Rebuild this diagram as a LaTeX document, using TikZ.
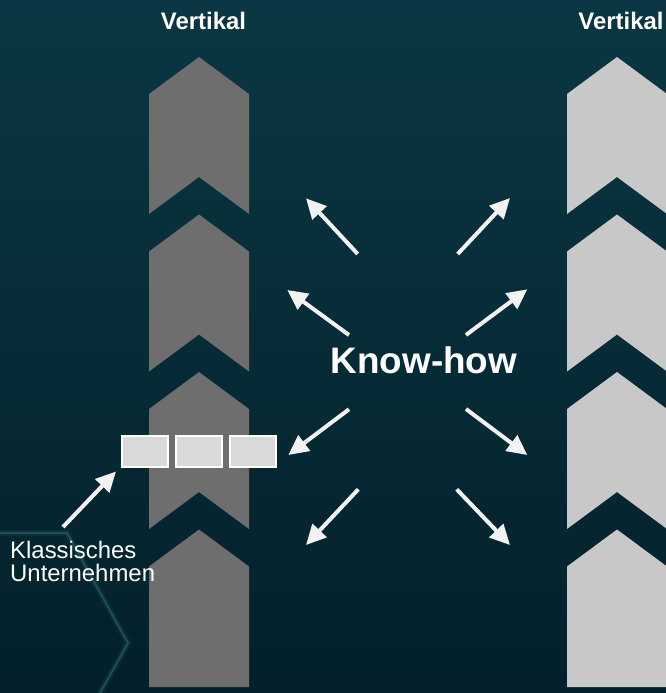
\documentclass[tikz,border=0pt]{standalone}
\usepackage{fontspec}
\setmainfont{Liberation Sans}
\usetikzlibrary{arrows.meta,calc}
\definecolor{bgtop}{HTML}{0A3743}
\definecolor{bgbot}{HTML}{03202A}
\definecolor{darkchev}{HTML}{6E6E6E}
\definecolor{lightchev}{HTML}{C8C8C8}
\definecolor{boxfill}{HTML}{D9D9D9}
\definecolor{arrowwhite}{HTML}{F2F2F2}
\definecolor{glow}{HTML}{3F9098}
\begin{document}
\begin{tikzpicture}[x=1bp,y=-1bp,
  chevdark/.style={fill=darkchev,draw=none},
  chevlight/.style={fill=lightchev,draw=none},
  kbox/.style={draw=white,fill=boxfill,line width=2bp,minimum width=46bp,minimum height=31bp,inner sep=0pt},
  radarrow/.style={draw=arrowwhite,line width=4bp,-{Triangle[length=20bp,width=19bp]}},
  label/.style={text=white,font=\bfseries\fontsize{24}{24}\selectfont,inner sep=0pt},
  bigtext/.style={text=white,font=\bfseries\fontsize{37}{37}\selectfont,inner sep=0pt},
  smalltext/.style={text=white,font=\fontsize{24}{23}\selectfont,inner sep=0pt,align=left}
]
\useasboundingbox (0,0) rectangle (666,693);
\shade[top color=bgtop,bottom color=bgbot] (0,0) rectangle (666,693);
% glow line (hexagon)
\draw[glow,opacity=0.35,line width=2bp] (0,533) -- (67,533) -- (128,643) -- (100,693);
\draw[glow,opacity=0.1,line width=6bp] (0,533) -- (67,533) -- (128,643) -- (100,693);
% chevron columns
\foreach \cx/\st in {199/chevdark,617/chevlight}{
  \foreach \t in {57,214.5,372}{
    \path[\st] (\cx-50,\t+37) -- (\cx,\t) -- (\cx+50,\t+37) -- (\cx+50,\t+157) -- (\cx,\t+120) -- (\cx-50,\t+157) -- cycle;
  }
  \path[\st] (\cx-50,529.5+37) -- (\cx,529.5) -- (\cx+50,529.5+37) -- (\cx+50,687) -- (\cx-50,687) -- cycle;
}
% labels
\node[label,anchor=base] (vl) at (203.5,29.3) {Vertikal};
\node[label,anchor=base] (vr) at (621,29.3) {Vertikal};
\node[bigtext,anchor=base] (kh) at (424,373) {Know-how};
% boxes
\node[kbox] (b1) at (145,451) {};
\node[kbox] (b2) at (198.5,451) {};
\node[kbox] (b3) at (252.5,451) {};
\node[smalltext,anchor=north west] (ku) at (10,541) {Klassisches\\Unternehmen};
% arrow coordinates
\coordinate (t1) at (357.7,254); \coordinate (h1) at (306,198.3);
\coordinate (t2) at (457.7,254); \coordinate (h2) at (510,198);
\coordinate (t3) at (349,335);   \coordinate (h3) at (287.3,290);
\coordinate (t4) at (466,335);   \coordinate (h4) at (527.3,289.3);
\coordinate (t5) at (349,409.3); \coordinate (h5) at (288.3,455);
\coordinate (t6) at (466,409);   \coordinate (h6) at (527.3,455);
\coordinate (t7) at (358.3,489.3); \coordinate (h7) at (306,545);
\coordinate (t8) at (456.7,489.3); \coordinate (h8) at (510,545);
\foreach \i in {1,...,8}{ \draw[radarrow] (t\i) -- (h\i); }
\coordinate (kt) at (63,527);
\draw[radarrow] (kt) -- ($(b1.south west)+(-5,4)$);
\end{tikzpicture}
\end{document}
